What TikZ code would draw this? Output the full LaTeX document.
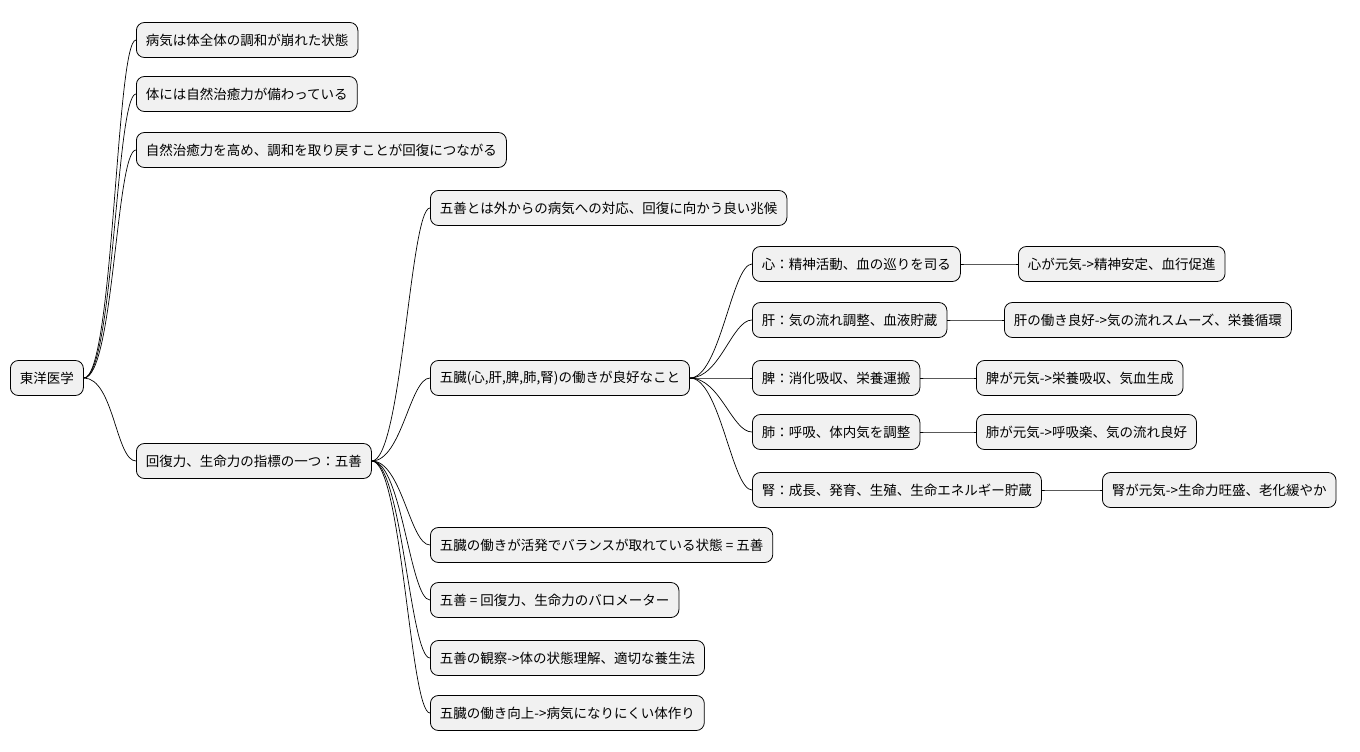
\documentclass[tikz,border=0pt]{standalone}
\usepackage{fontspec}
\setmainfont{Noto Sans CJK JP}
\definecolor{nodefill}{HTML}{F1F1F1}
\begin{document}
\begin{tikzpicture}[x=1pt,y=-1pt,
  box/.style={draw=black,fill=nodefill,rounded corners=8pt,line width=0.8pt,anchor=west,
    minimum height=35pt,inner xsep=9.5pt,inner ysep=0pt,font=\fontsize{13.5}{16}\selectfont},
  link/.style={draw=black,line width=0.7pt}]
\useasboundingbox (0,0) rectangle (1360,752);
\node[box] (root) at (10,378) {東洋医学};
\node[box] (a1) at (136,40) {病気は体全体の調和が崩れた状態};
\node[box] (a2) at (136,94) {体には自然治癒力が備わっている};
\node[box] (a3) at (136,150) {自然治癒力を高め、調和を取り戻すことが回復につながる};
\node[box] (a4) at (136,461) {回復力、生命力の指標の一つ：五善};
\node[box] (b1) at (430,208) {五善とは外からの病気への対応、回復に向かう良い兆候};
\node[box] (b2) at (430,378) {五臓(心,肝,脾,肺,腎)の働きが良好なこと};
\node[box] (b3) at (430,545) {五臓の働きが活発でバランスが取れている状態 = 五善};
\node[box] (b4) at (430,600) {五善 = 回復力、生命力のバロメーター};
\node[box] (b5) at (430,658) {五善の観察->体の状態理解、適切な養生法};
\node[box] (b6) at (430,713) {五臓の働き向上->病気になりにくい体作り};
\node[box] (c1) at (752,264) {心：精神活動、血の巡りを司る};
\node[box] (c2) at (752,320) {肝：気の流れ調整、血液貯蔵};
\node[box] (c3) at (752,378) {脾：消化吸収、栄養運搬};
\node[box] (c4) at (752,432) {肺：呼吸、体内気を調整};
\node[box] (c5) at (752,490) {腎：成長、発育、生殖、生命エネルギー貯蔵};
\node[box] (d1) at (1018,264) {心が元気->精神安定、血行促進};
\node[box] (d2) at (1004,320) {肝の働き良好->気の流れスムーズ、栄養循環};
\node[box] (d3) at (976,378) {脾が元気->栄養吸収、気血生成};
\node[box] (d4) at (976,432) {肺が元気->呼吸楽、気の流れ良好};
\node[box] (d5) at (1102,490) {腎が元気->生命力旺盛、老化緩やか};
\foreach \p/\c in {root/a1,root/a2,root/a3,root/a4,a4/b1,a4/b2,a4/b3,a4/b4,a4/b5,a4/b6,
  b2/c1,b2/c2,b2/c3,b2/c4,b2/c5,c1/d1,c2/d2,c3/d3,c4/d4,c5/d5}
  \draw[link] (\p.east) .. controls +(30,0) and +(-20,0) .. (\c.west);
\end{tikzpicture}
\end{document}
